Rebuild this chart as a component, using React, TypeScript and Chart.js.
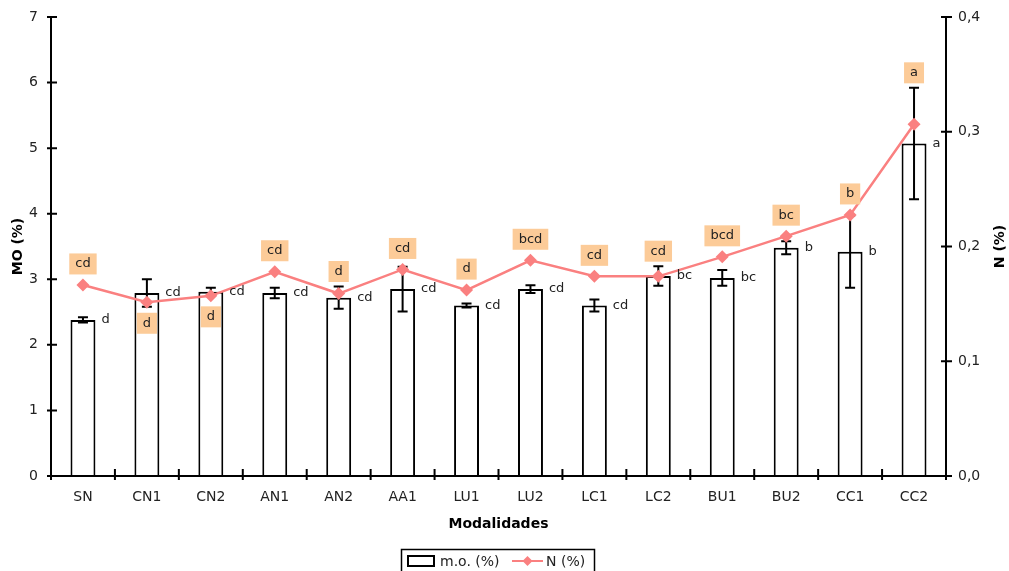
import React, { useEffect, useRef } from 'react';
import { Chart, registerables } from 'chart.js';

Chart.register(...registerables);

const categories = ['SN', 'CN1', 'CN2', 'AN1', 'AN2', 'AA1', 'LU1', 'LU2', 'LC1', 'LC2', 'BU1', 'BU2', 'CC1', 'CC2'];
const moValues = [2.38, 2.79, 2.81, 2.79, 2.72, 2.85, 2.6, 2.85, 2.6, 3.05, 3.02, 3.48, 3.42, 5.07];
const moErrors = [0.04, 0.21, 0.06, 0.08, 0.17, 0.34, 0.03, 0.06, 0.09, 0.15, 0.12, 0.1, 0.55, 0.85];
const nValues = [0.1665, 0.1514, 0.157, 0.178, 0.159, 0.18, 0.162, 0.188, 0.174, 0.174, 0.191, 0.209, 0.2275, 0.3065];
const moLetters = ['d', 'cd', 'cd', 'cd', 'cd', 'cd', 'cd', 'cd', 'cd', 'bc', 'bc', 'b', 'b', 'a'];
const nLetters = ['cd', 'd', 'd', 'cd', 'd', 'cd', 'd', 'bcd', 'cd', 'cd', 'bcd', 'bc', 'b', 'a'];
const moMax = 7;
const nMax = 0.4;
const moLabel = 'MO (%)';
const nLabel = 'N (%)';
const xLabel = 'Modalidades';
const moLegend = 'm.o. (%)';
const nLegend = 'N (%)';

const FONT = '"DejaVu Sans", Verdana, sans-serif';
const LINE_COLOR = '#FA8080';
const BOX_COLOR = '#FCCB98';
const TEXT_COLOR = '#222';

const decorPlugin = {
  id: 'decor',
  afterDatasetDraw(chart: any, args: any) {
    if (args.index !== 0) return;
    const ctx = chart.ctx;
    const y = chart.scales.y;
    const meta = chart.getDatasetMeta(0);
    ctx.save();
    ctx.strokeStyle = '#000';
    ctx.lineWidth = 2;
    meta.data.forEach((bar: any, i: number) => {
      const x = bar.x;
      const top = y.getPixelForValue(moValues[i] + moErrors[i]);
      const bot = y.getPixelForValue(moValues[i] - moErrors[i]);
      ctx.beginPath();
      ctx.moveTo(x, top);
      ctx.lineTo(x, bot);
      ctx.moveTo(x - 5, top);
      ctx.lineTo(x + 5, top);
      ctx.moveTo(x - 5, bot);
      ctx.lineTo(x + 5, bot);
      ctx.stroke();
    });
    ctx.restore();
  },
  afterDraw(chart: any) {
    const ctx = chart.ctx;
    const area = chart.chartArea;
    const x = chart.scales.x;
    const y = chart.scales.y;
    const y2 = chart.scales.y2;
    ctx.save();
    ctx.strokeStyle = '#000';
    ctx.lineWidth = 2;
    ctx.beginPath();
    ctx.moveTo(area.left, area.top);
    ctx.lineTo(area.left, area.bottom);
    ctx.lineTo(area.right, area.bottom);
    ctx.moveTo(area.right, area.top);
    ctx.lineTo(area.right, area.bottom);
    for (let v = 0; v <= moMax; v++) {
      const py = y.getPixelForValue(v);
      ctx.moveTo(area.left - 4, py);
      ctx.lineTo(area.left + 6, py);
    }
    for (let k = 0; k <= 4; k++) {
      const py = y2.getPixelForValue(k * 0.1);
      ctx.moveTo(area.right - 5, py);
      ctx.lineTo(area.right + 6, py);
    }
    for (let i = 0; i <= categories.length; i++) {
      const px = x.getPixelForValue(i - 0.5);
      ctx.moveTo(px, area.bottom - 7);
      ctx.lineTo(px, area.bottom + 4);
    }
    ctx.stroke();

    const barMeta = chart.getDatasetMeta(0);
    ctx.font = `13px ${FONT}`;
    ctx.fillStyle = TEXT_COLOR;
    ctx.textAlign = 'left';
    ctx.textBaseline = 'middle';
    barMeta.data.forEach((bar: any, i: number) => {
      ctx.fillText(moLetters[i], bar.x + bar.width / 2 + 6, bar.y);
    });

    const lineMeta = chart.getDatasetMeta(1);
    lineMeta.data.forEach((pt: any, i: number) => {
      const py = pt.y;
      const barTop = y.getPixelForValue(moValues[i]);
      const errTop = y.getPixelForValue(moValues[i] + moErrors[i]);
      let cy: number;
      if (py > barTop + 1) {
        cy = py + 21;
      } else {
        cy = Math.min(py - 21, errTop - 15);
      }
      const tw = ctx.measureText(nLetters[i]).width;
      const bw = tw + 12;
      const bh = 21;
      ctx.fillStyle = BOX_COLOR;
      ctx.fillRect(pt.x - bw / 2, cy - bh / 2, bw, bh);
      ctx.fillStyle = TEXT_COLOR;
      ctx.textAlign = 'center';
      ctx.fillText(nLetters[i], pt.x, cy);
    });

    ctx.fillStyle = '#000';
    ctx.font = `bold 14px ${FONT}`;
    ctx.textAlign = 'center';
    ctx.textBaseline = 'middle';
    ctx.fillText(xLabel, (area.left + area.right) / 2, 524);
    const midY = (area.top + area.bottom) / 2;
    ctx.save();
    ctx.translate(18, midY);
    ctx.rotate(-Math.PI / 2);
    ctx.fillText(moLabel, 0, 0);
    ctx.restore();
    ctx.save();
    ctx.translate(1000, midY);
    ctx.rotate(-Math.PI / 2);
    ctx.fillText(nLabel, 0, 0);
    ctx.restore();

    ctx.strokeStyle = '#000';
    ctx.lineWidth = 1.5;
    ctx.strokeRect(401.5, 549.5, 193, 30);
    ctx.lineWidth = 2;
    ctx.strokeRect(408, 556, 26, 10);
    ctx.font = `14px ${FONT}`;
    ctx.fillStyle = TEXT_COLOR;
    ctx.textAlign = 'left';
    ctx.fillText(moLegend, 440, 562);
    ctx.strokeStyle = LINE_COLOR;
    ctx.beginPath();
    ctx.moveTo(512, 561);
    ctx.lineTo(543, 561);
    ctx.stroke();
    ctx.fillStyle = LINE_COLOR;
    ctx.beginPath();
    ctx.moveTo(527.5, 556);
    ctx.lineTo(532.5, 561);
    ctx.lineTo(527.5, 566);
    ctx.lineTo(522.5, 561);
    ctx.closePath();
    ctx.fill();
    ctx.fillStyle = TEXT_COLOR;
    ctx.fillText(nLegend, 546, 562);
    ctx.restore();
  },
};

const fitVertical = (w: number) => (s: any) => {
  s.width = w;
  s.paddingTop = 0;
  s.paddingBottom = 0;
};

export default function App() {
  const ref = useRef<HTMLCanvasElement>(null);
  useEffect(() => {
    document.body.style.margin = '0';
    const canvas = ref.current;
    if (!canvas) return;
    const chart = new Chart(canvas, {
      type: 'bar',
      data: {
        labels: categories,
        datasets: [
          {
            type: 'bar',
            label: moLegend,
            data: moValues,
            yAxisID: 'y',
            backgroundColor: '#fff',
            borderColor: '#000',
            borderWidth: 2,
            barPercentage: 0.39,
            categoryPercentage: 1,
            order: 2,
          },
          {
            type: 'line',
            label: nLegend,
            data: nValues,
            yAxisID: 'y2',
            borderColor: LINE_COLOR,
            backgroundColor: LINE_COLOR,
            borderWidth: 2.5,
            pointStyle: 'rectRot',
            pointRadius: 6.5,
            pointBorderWidth: 0,
            tension: 0,
            order: 1,
          },
        ] as any,
      },
      options: {
        responsive: false,
        animation: false,
        devicePixelRatio: 1,
        layout: { padding: { top: 17, left: 0, right: 0, bottom: 0 } },
        plugins: { legend: { display: false }, tooltip: { enabled: false } },
        scales: {
          x: {
            offset: true,
            grid: { display: false, drawTicks: false },
            border: { display: false },
            ticks: { color: TEXT_COLOR, font: { family: FONT, size: 14 }, padding: 13, maxRotation: 0 },
            afterFit: (s: any) => { s.height = 95; s.paddingLeft = 0; s.paddingRight = 0; },
          },
          y: {
            position: 'left',
            min: 0,
            max: moMax,
            grid: { display: false, drawTicks: false },
            border: { display: false },
            ticks: { stepSize: 1, color: TEXT_COLOR, font: { family: FONT, size: 14 }, padding: 13 },
            afterFit: fitVertical(51),
          },
          y2: {
            position: 'right',
            min: 0,
            max: nMax,
            grid: { display: false, drawTicks: false },
            border: { display: false },
            ticks: {
              stepSize: 0.1,
              color: TEXT_COLOR,
              font: { family: FONT, size: 14 },
              padding: 12,
              callback: (v: any) => Number(v).toFixed(1).replace('.', ','),
            },
            afterFit: fitVertical(63),
          },
        },
      } as any,
      plugins: [decorPlugin],
    });
    return () => chart.destroy();
  }, []);
  return (
    <div style={{ width: 1009, height: 571 }}>
      <canvas ref={ref} width={1009} height={571} style={{ display: 'block' }} />
    </div>
  );
}
